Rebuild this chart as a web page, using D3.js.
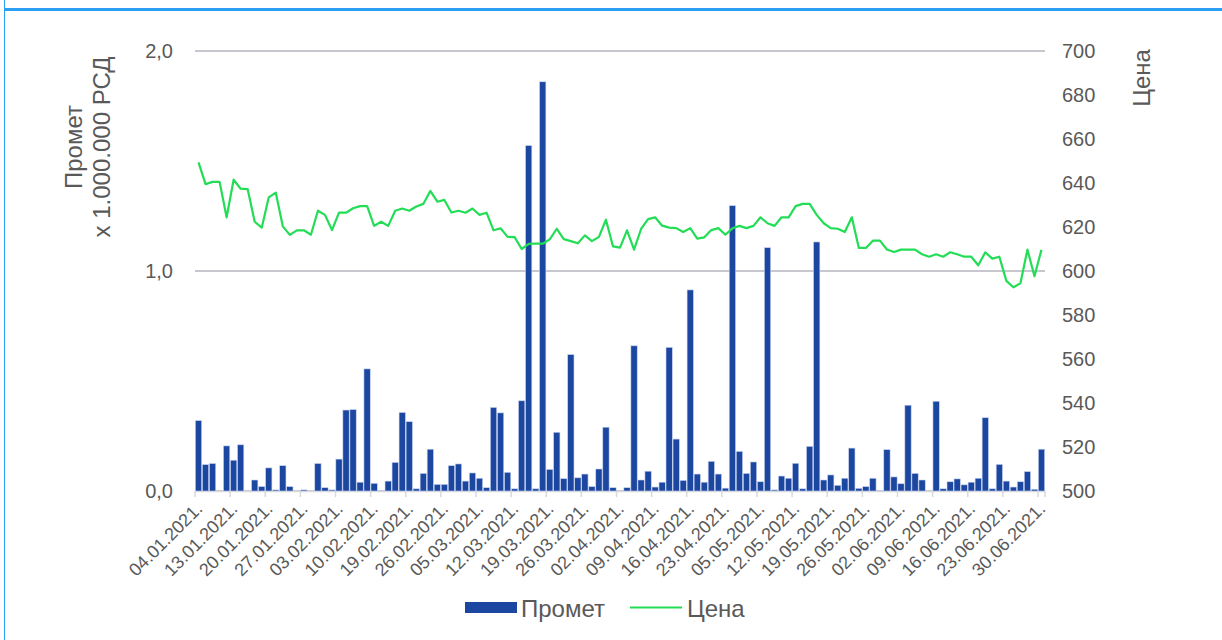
<!DOCTYPE html>
<html>
<head>
<meta charset="utf-8">
<script src="https://cdn.jsdelivr.net/npm/d3@7"></script>
<style>
body { margin: 0; background: #fff; }
svg text { font-family: "Liberation Sans", Arial, sans-serif; fill: #595959; }
</style>
</head>
<body>
<div class="chart"></div>
<script>
// trading days, 04.01.2021 - 30.06.2021
var dates = [
"04.01.2021.","05.01.2021.","06.01.2021.","08.01.2021.","12.01.2021.",
"13.01.2021.","14.01.2021.","15.01.2021.","18.01.2021.","19.01.2021.",
"20.01.2021.","21.01.2021.","22.01.2021.","25.01.2021.","26.01.2021.",
"27.01.2021.","28.01.2021.","29.01.2021.","01.02.2021.","02.02.2021.",
"03.02.2021.","04.02.2021.","05.02.2021.","08.02.2021.","09.02.2021.",
"10.02.2021.","11.02.2021.","12.02.2021.","17.02.2021.","18.02.2021.",
"19.02.2021.","22.02.2021.","23.02.2021.","24.02.2021.","25.02.2021.",
"26.02.2021.","01.03.2021.","02.03.2021.","03.03.2021.","04.03.2021.",
"05.03.2021.","08.03.2021.","09.03.2021.","10.03.2021.","11.03.2021.",
"12.03.2021.","15.03.2021.","16.03.2021.","17.03.2021.","18.03.2021.",
"19.03.2021.","22.03.2021.","23.03.2021.","24.03.2021.","25.03.2021.",
"26.03.2021.","29.03.2021.","30.03.2021.","31.03.2021.","01.04.2021.",
"02.04.2021.","05.04.2021.","06.04.2021.","07.04.2021.","08.04.2021.",
"09.04.2021.","12.04.2021.","13.04.2021.","14.04.2021.","15.04.2021.",
"16.04.2021.","19.04.2021.","20.04.2021.","21.04.2021.","22.04.2021.",
"23.04.2021.","26.04.2021.","27.04.2021.","28.04.2021.","29.04.2021.",
"05.05.2021.","06.05.2021.","07.05.2021.","10.05.2021.","11.05.2021.",
"12.05.2021.","13.05.2021.","14.05.2021.","17.05.2021.","18.05.2021.",
"19.05.2021.","20.05.2021.","21.05.2021.","24.05.2021.","25.05.2021.",
"26.05.2021.","27.05.2021.","28.05.2021.","31.05.2021.","01.06.2021.",
"02.06.2021.","03.06.2021.","04.06.2021.","07.06.2021.","08.06.2021.",
"09.06.2021.","10.06.2021.","11.06.2021.","14.06.2021.","15.06.2021.",
"16.06.2021.","17.06.2021.","18.06.2021.","21.06.2021.","22.06.2021.",
"23.06.2021.","24.06.2021.","25.06.2021.","28.06.2021.","29.06.2021.",
"30.06.2021."
];

// Промет, x 1.000.000 РСД
var promet = [
0.32,0.12,0.125,0,0.205, 0.14,0.21,0,0.05,0.02,
0.105,0.005,0.115,0.02,0, 0.005,0,0.125,0.015,0.005,
0.145,0.368,0.37,0.04,0.555, 0.035,0.003,0.045,0.13,0.357,
0.315,0.01,0.08,0.19,0.03, 0.03,0.115,0.123,0.045,0.082,
0.058,0.015,0.38,0.355,0.085, 0.01,0.41,1.57,0.01,1.86,
0.098,0.267,0.056,0.62,0.06, 0.077,0.02,0.1,0.29,0.015,
0,0.015,0.66,0.05,0.09, 0.018,0.04,0.653,0.236,0.048,
0.914,0.077,0.04,0.135,0.077, 0.013,1.297,0.18,0.08,0.132,
0.042,1.106,0.005,0.068,0.058, 0.126,0.01,0.203,1.132,0.05,
0.073,0.026,0.058,0.195,0.012, 0.02,0.058,0.003,0.188,0.064,
0.033,0.39,0.08,0.05,0, 0.408,0.01,0.042,0.055,0.028,
0.04,0.058,0.333,0.01,0.121, 0.045,0.018,0.042,0.088,0.008,
0.19
];

// Цена
var cena = [
649.4,639.5,640.5,640.5,624.4, 641.5,637.4,637.2,622.4,619.7,
633.5,635.6,620.3,616.4,618.5, 618.5,616.5,627.4,625.5,618.6,
626.5,626.5,628.5,629.5,629.5, 620.5,622.4,620.5,627.4,628.4,
627.4,629.3,630.5,636.4,631.5, 632.3,626.6,627.4,626.5,628.4,
625.5,626.5,618.5,619.4,615.5, 615.4,610,612.3,612.4,612.4,
614.4,619.2,614.5,613.6,612.6, 616.2,613.6,615.5,623.3,611.2,
610.6,618.5,609.7,619.1,623.6, 624.4,620.6,619.7,619.5,617.7,
619.5,614.7,615.3,618.6,619.5, 616.5,619.4,620.5,619.5,620.5,
624.4,621.7,620.5,624.4,624.4, 629.5,630.5,630.5,625.5,621.7,
619.5,619.2,617.7,624.4,610.5, 610.5,613.8,613.8,609.8,608.6,
609.7,609.7,609.7,607.6,606.5, 607.6,606.5,608.5,607.6,606.5,
606.5,602.6,608.5,605.6,606.5, 595.5,592.6,594.4,609.7,597.6,
609.7
];

var leftTicks = [0, 1, 2];
var rightTicks = [500, 520, 540, 560, 580, 600, 620, 640, 660, 680, 700];
var labelDates = dates.filter(function (d, i) { return i % 5 == 0; });

var width = 1222;
var height = 640;
var barColor = "#1b47a1";
var lineColor = "#22dd55";

var svg = d3.select('.chart')
    .append('svg')
    .attr("width", width)
    .attr("height", height);

// blue frame of the screenshot
svg.append("rect")
    .attr("x", 4).attr("y", 8)
    .attr("width", width - 4).attr("height", 3)
    .attr("fill", "#2b9ff3");
svg.append("line")
    .attr("x1", 4.5).attr("x2", 4.5)
    .attr("y1", 0).attr("y2", height)
    .attr("stroke", "#2b9ff3").attr("stroke-width", 1);

var x = d3.scaleBand()
    .domain(dates)
    .range([195, 1045])
    .paddingInner(0.1)
    .paddingOuter(0.05);

var yL = d3.scaleLinear().domain([0, 2]).range([491, 51]);
var yR = d3.scaleLinear().domain([500, 700]).range([491, 51]);

// gridlines
svg.append("g").selectAll("line")
    .data(leftTicks)
    .enter()
    .append("line")
    .attr("x1", 195).attr("x2", 1045)
    .attr("y1", function (d) { return yL(d); })
    .attr("y2", function (d) { return yL(d); })
    .attr("stroke", "#b4b5c0")
    .attr("stroke-width", 1.5);

// x axis line + ticks every 5 days
var half = x.step() * x.paddingInner() / 2;
svg.append("line")
    .attr("x1", 195).attr("x2", 1045)
    .attr("y1", 491.5).attr("y2", 491.5)
    .attr("stroke", "#d9d9d9").attr("stroke-width", 1.5);
svg.append("g").selectAll("line")
    .data(labelDates.concat(["end"]))
    .enter()
    .append("line")
    .attr("x1", function (d) { return d == "end" ? 1045 : x(d) - half; })
    .attr("x2", function (d) { return d == "end" ? 1045 : x(d) - half; })
    .attr("y1", 491).attr("y2", 497)
    .attr("stroke", "#d9d9d9").attr("stroke-width", 1.5);

// bars
svg.append("g").selectAll("rect")
    .data(promet)
    .enter()
    .append("rect")
    .attr("x", function (d, i) { return x(dates[i]); })
    .attr("width", x.bandwidth())
    .attr("y", function (d) { return yL(d); })
    .attr("height", function (d) { return yL(0) - yL(d); })
    .attr("fill", barColor)
    .attr("stroke", "#c9d3ee")
    .attr("stroke-width", 0.6);

// price line
var line = d3.line()
    .x(function (d, i) { return x(dates[i]) + x.bandwidth() / 2; })
    .y(function (d) { return yR(d); });

svg.append("path")
    .datum(cena)
    .attr("d", line)
    .attr("fill", "none")
    .attr("stroke", lineColor)
    .attr("stroke-width", 2.2)
    .attr("stroke-linejoin", "round");

// left axis
var yAxisL = d3.axisLeft(yL)
    .tickValues(leftTicks)
    .tickSize(0)
    .tickPadding(22)
    .tickFormat(function (d) { return d3.format(".1f")(d).replace(".", ","); });
var gL = svg.append("g").attr("transform", "translate(195,0)").call(yAxisL);
gL.select(".domain").remove();
gL.selectAll("text").attr("font-size", 20).attr("font-family", null);

// right axis
var yAxisR = d3.axisRight(yR)
    .tickValues(rightTicks)
    .tickSize(0)
    .tickPadding(17);
var gR = svg.append("g").attr("transform", "translate(1045,0)").call(yAxisR);
gR.select(".domain").remove();
gR.selectAll("text").attr("font-size", 20).attr("font-family", null);

// date labels
svg.append("g").selectAll("text")
    .data(labelDates)
    .enter()
    .append("text")
    .attr("transform", function (d) {
        return "translate(" + (x(d) + x.bandwidth() / 2 + 5) + ",510) rotate(-45)";
    })
    .attr("text-anchor", "end")
    .attr("font-size", 18)
    .text(function (d) { return d; });

// axis titles
svg.append("text")
    .attr("transform", "translate(82,147) rotate(-90)")
    .attr("text-anchor", "middle")
    .attr("font-size", 24)
    .text("Промет");
svg.append("text")
    .attr("transform", "translate(110,147) rotate(-90)")
    .attr("text-anchor", "middle")
    .attr("font-size", 24)
    .text("x 1.000.000 РСД");
svg.append("text")
    .attr("transform", "translate(1150,78) rotate(-90)")
    .attr("text-anchor", "middle")
    .attr("font-size", 24)
    .text("Цена");

// legend
svg.append("rect")
    .attr("x", 465).attr("y", 602)
    .attr("width", 52).attr("height", 11)
    .attr("fill", barColor);
svg.append("text")
    .attr("x", 521).attr("y", 617)
    .attr("font-size", 24)
    .text("Промет");
svg.append("line")
    .attr("x1", 630).attr("x2", 682)
    .attr("y1", 607.5).attr("y2", 607.5)
    .attr("stroke", lineColor).attr("stroke-width", 2.2);
svg.append("text")
    .attr("x", 687).attr("y", 617)
    .attr("font-size", 24)
    .text("Цена");
</script>
</body>
</html>
